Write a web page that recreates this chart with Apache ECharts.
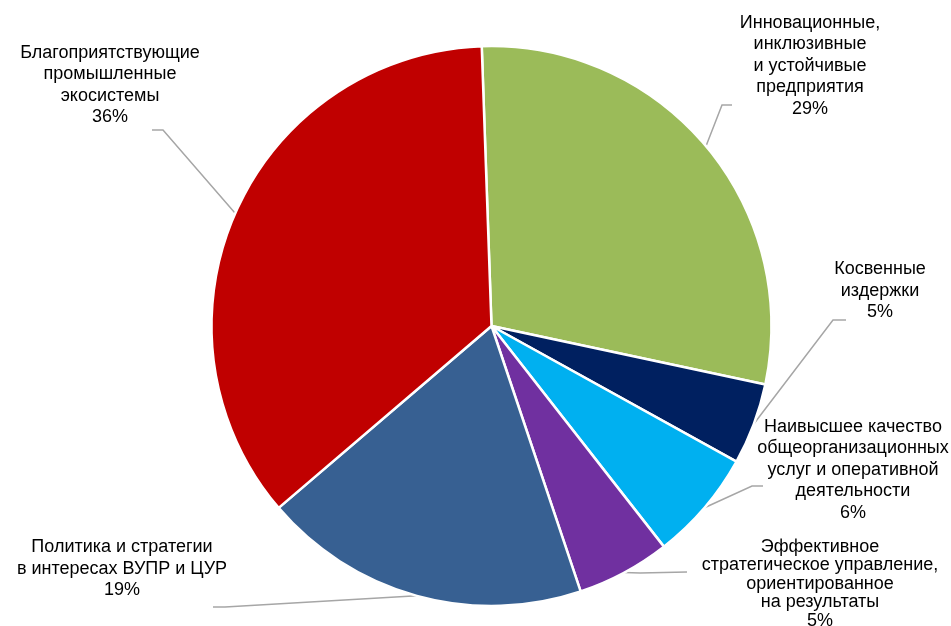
<!DOCTYPE html>
<html>
<head>
<meta charset="utf-8">
<script src="https://cdn.jsdelivr.net/npm/echarts@6/dist/echarts.min.js"></script>
<style>html,body{margin:0;padding:0;background:#fff;}#c{width:951px;height:626px;}</style>
</head>
<body>
<div id="c"></div>
<script>
// Data
var categories = [
  'Инновационные,\nинклюзивные\nи устойчивые\nпредприятия',
  'Косвенные\nиздержки',
  'Наивысшее качество\nобщеорганизационных\nуслуг и оперативной\nдеятельности',
  'Эффективное\nстратегическое управление,\nориентированное\nна результаты',
  'Политика и стратегии\nв интересах ВУПР и ЦУР',
  'Благоприятствующие\nпромышленные\nэкосистемы'
];
var values = [28.9, 4.7, 6.4, 5.4, 18.9, 35.7];

// Styles / layout
var colors = ['#9BBB59', '#002060', '#00B0F0', '#7030A0', '#376092', '#C00000'];
var labelPlace = [
  {x: 810, y: 66, bend: [722, 105], end: [732, 105]},
  {x: 880, y: 291, bend: [833, 320], end: [846, 320]},
  {x: 853, y: 470, bend: [752, 486], end: [763, 486]},
  {x: 820, y: 584, bend: [640, 573], end: [687, 572], lh: 18.5},
  {x: 122, y: 569, bend: [225, 607], end: [213, 607]},
  {x: 110, y: 85, bend: [163, 130], end: [152, 130]}
];

var chart = echarts.init(document.getElementById('c'), null, {renderer: 'canvas'});
var data = categories.map(function (n, i) {
  var item = {name: n, value: values[i], itemStyle: {color: colors[i]}};
  if (labelPlace[i].lh) item.label = {lineHeight: labelPlace[i].lh};
  return item;
});
chart.setOption({
  animation: false,
  series: [{
    type: 'pie',
    center: [491.5, 326],
    radius: [0, 280],
    startAngle: 92,
    clockwise: true,
    percentPrecision: 0,
    data: data,
    itemStyle: {borderColor: '#fff', borderWidth: 2.5},
    label: {
      show: true,
      position: 'outside',
      formatter: '{b}\n{d}%',
      fontFamily: 'Liberation Sans, Arial, sans-serif',
      fontSize: 18,
      lineHeight: 21.5,
      color: '#000',
      align: 'center',
      overflow: 'none',
      edgeDistance: 0
    },
    labelLine: {show: true, lineStyle: {color: '#A6A6A6', width: 1.5}},
    labelLayout: function (params) {
      var p = labelPlace[params.dataIndex];
      var pts = params.labelLinePoints;
      var start = pts && pts[0] ? pts[0] : p.bend;
      return {
        x: p.x,
        y: p.y,
        align: 'center',
        verticalAlign: 'middle',
        labelLinePoints: [start, p.bend, p.end]
      };
    }
  }]
});
</script>
</body>
</html>
